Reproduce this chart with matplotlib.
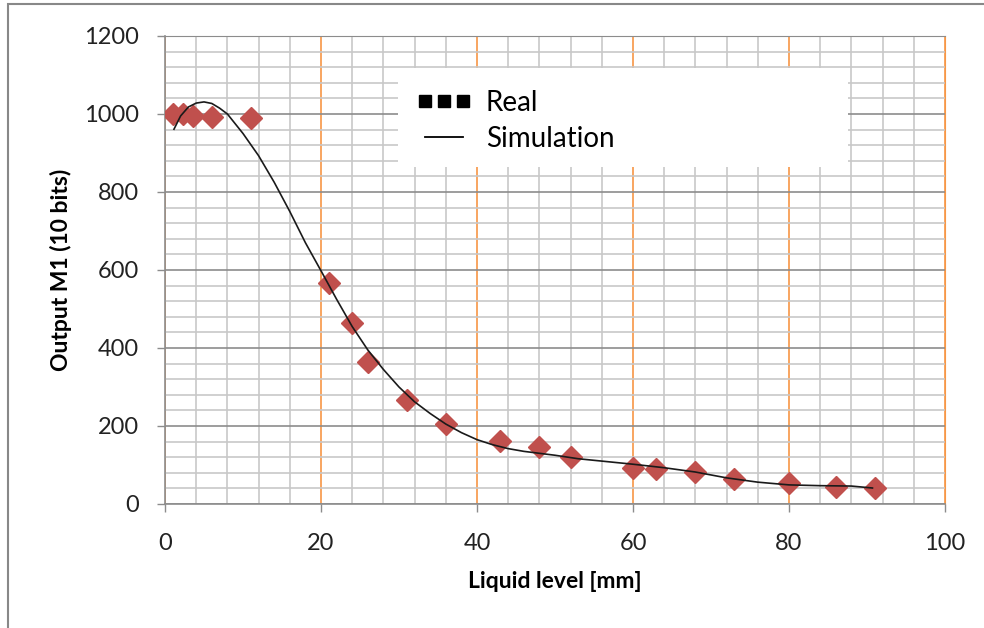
import matplotlib.pyplot as plt
import numpy as np
from matplotlib.lines import Line2D
from matplotlib.patches import Rectangle

plt.rcParams['font.family'] = ['Lato', 'DejaVu Sans']

# measured points (Real)
real_x = [1, 2.3, 3.6, 6, 11, 21, 24, 26, 31, 36, 43, 48, 52, 60, 63, 68, 73, 80, 86, 91]
real_y = [1000, 1000, 995, 993, 990, 567, 464, 364, 267, 205, 162, 146, 120, 92, 90, 82, 64, 54, 44, 41]

# simulation curve
sim_x = [1.15, 2, 3, 4, 5, 6, 7, 8, 10, 12, 14, 16, 18, 20, 22, 24, 26, 28, 30, 32,
         34, 36, 38, 40, 42, 44, 46, 48, 50, 53, 56, 60, 64, 68, 72, 76, 80, 84, 88, 90.7]
sim_y = [961, 995, 1018, 1028, 1031, 1027, 1015, 1000, 950, 893, 825, 750, 670, 598, 525, 455,
         395, 345, 300, 262, 232, 205, 183, 165, 152, 142, 135, 130, 125, 116, 110, 102, 93, 82,
         67, 56, 49, 47, 46, 41]

red = '#C0504D'
orange = '#F79646'
grey_major = '#8C8C8C'
grey_minor = '#C8C8C8'

fig = plt.figure(figsize=(9.84, 6.28), dpi=100)
ax = fig.add_axes([165/984, 124/628, 780/984, 468/628])

ax.set_xlim(0, 100)
ax.set_ylim(0, 1200)
ax.set_xticks(np.arange(0, 101, 20))
ax.set_yticks(np.arange(0, 1201, 200))
ax.set_xticks(np.arange(0, 101, 4), minor=True)
ax.set_yticks(np.arange(0, 1201, 40), minor=True)

# grid: light grey minor, grey horizontal major, orange vertical major
ax.grid(which='minor', color=grey_minor, lw=1.2, zorder=0)
ax.grid(which='major', axis='y', color=grey_major, lw=1.2, zorder=0)
ax.grid(which='major', axis='x', color=orange, lw=1.2, zorder=0)
ax.set_axisbelow(True)
ax.tick_params(which='minor', length=0)
ax.tick_params(which='major', length=6, width=1, color=grey_major, labelsize=17,
               labelcolor='#222222')
ax.tick_params(axis='y', pad=13)
ax.tick_params(axis='x', pad=15)

for s in ['left', 'bottom']:
    ax.spines[s].set_color(grey_major)
    ax.spines[s].set_linewidth(1.2)
ax.spines['top'].set_color(grey_major)
ax.spines['right'].set_color(orange)

ax.plot(real_x, real_y, ls='none', marker='D', markersize=11, color=red, zorder=3)
ax.plot(sim_x, sim_y, color='#1a1a1a', lw=1.2, zorder=4)

ax.set_xlabel('Liquid level [mm]', fontsize=16.5, fontweight='bold', labelpad=12)
ax.set_ylabel('Output M1 (10 bits)', fontsize=16.5, fontweight='bold', labelpad=8)

# legend box
ax.add_patch(Rectangle((0.299, 0.72), 0.577, 0.212, transform=ax.transAxes,
                       facecolor='white', edgecolor='none', zorder=5))
handles = [Line2D([], [], ls='none', marker='s', color='black', markersize=9),
           Line2D([], [], color='black', lw=1.3)]
leg = ax.legend(handles, ['Real', 'Simulation'], loc='upper left',
                bbox_to_anchor=(0.29, 0.938), frameon=False, numpoints=3,
                fontsize=20, handlelength=2.0, handletextpad=0.5, labelspacing=0.35)
leg.set_zorder(6)

# outer frame of the chart
fig.patches.append(Rectangle((8/984, -0.1), 1.2, 1.1 - 4/628, transform=fig.transFigure,
                             facecolor='none', edgecolor='#888888', lw=1.5))

fig.savefig('out.png', dpi=100, facecolor='white')
